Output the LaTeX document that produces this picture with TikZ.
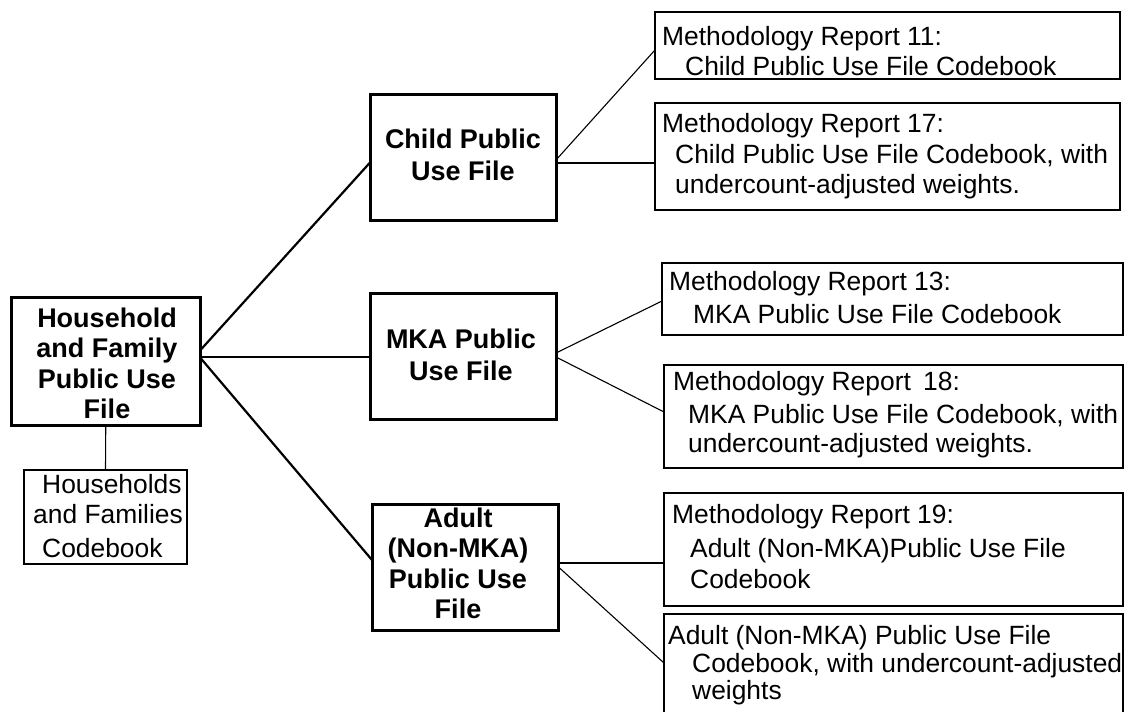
\documentclass[tikz,border=0pt]{standalone}
\usepackage{fontspec}
\setmainfont{Liberation Sans}
\usetikzlibrary{calc}
\begin{document}
\begin{tikzpicture}[x=1pt,y=-1pt,
  bigbox/.style={draw, line width=3pt, inner sep=0pt, outer sep=0pt, anchor=north west},
  smallbox/.style={draw, line width=1.3pt, inner sep=0pt, outer sep=0pt, anchor=north west},
  reg/.style={font=\fontsize{26.4}{30}\selectfont, align=left, inner sep=0pt, anchor=north west},
  bld/.style={font=\bfseries\fontsize{27}{30.5}\selectfont, align=center, inner sep=0pt, anchor=north},
  heavy/.style={line width=2.2pt},
  light/.style={line width=1.1pt}]
\clip (0,0) rectangle (1125,712);
\fill[white] (0,0) rectangle (1125,712);

% main boxes
\node[bigbox, minimum width=189.5pt, minimum height=128.5pt] (hh) at (11,297) {};
\node[bigbox, minimum width=185.5pt, minimum height=126pt] (ch) at (370.5,94.5) {};
\node[bigbox, minimum width=185.5pt, minimum height=126pt] (mka) at (370.5,293) {};
\node[bigbox, minimum width=186.5pt, minimum height=126pt] (ad) at (372,504) {};

\node[bld] (hht) at (107,307.7) {Household\\and Family\\Public Use\\File};
\node[bld] (cht) at (463,128.7) {Child Public\\[1.5pt]Use File};
\node[bld] (mkat) at (461,328.7) {MKA Public\\[1.5pt]Use File};
\node[bld] (adt) at (458,507.7) {Adult\\(Non-MKA)\\Public Use\\File};

% codebook box
\node[smallbox, minimum width=163pt, minimum height=94pt] (cb) at (24,470) {};
\node[reg] (cbt) at (33,474) {\hspace*{9pt}Households\\and Families\\[4pt]\hspace*{9pt}Codebook};

% report boxes
\node[smallbox, minimum width=465pt, minimum height=67pt] (r11) at (655,12) {};
\node[smallbox, minimum width=465pt, minimum height=107pt] (r17) at (655,103) {};
\node[smallbox, minimum width=461pt, minimum height=72pt] (r13) at (662,263) {};
\node[smallbox, minimum width=459pt, minimum height=103pt] (r18) at (664,365) {};
\node[smallbox, minimum width=459pt, minimum height=113pt] (r19) at (664,493) {};
\node[smallbox, minimum width=459pt, minimum height=120pt] (r20) at (664,614) {};

\node[reg] (r11t) at (662,26) {Methodology Report 11:\\\hspace*{23pt}Child Public Use File Codebook};
\node[reg] (r17t) at (662,113) {Methodology Report 17:\\[1pt]\hspace*{13pt}Child Public Use File Codebook, with\\\hspace*{13pt}undercount-adjusted weights.};
\node[reg] (r13t) at (669,271) {Methodology Report 13:\\[3pt]\hspace*{24pt}MKA Public Use File Codebook};
\node[reg] (r18t) at (673,371) {Methodology Report\hspace{5pt} 18:\\[3pt]\hspace*{15pt}MKA Public Use File Codebook, with\\[-1pt]\hspace*{15pt}undercount-adjusted weights.};
\node[reg] (r19t) at (672,504) {Methodology Report 19:\\[4pt]\hspace*{18pt}Adult (Non-MKA)Public Use File\\[1pt]\hspace*{18pt}Codebook};
\node[reg] (r20t) at (668,625.5) {Adult (Non-MKA) Public Use File\\[-2pt]\hspace*{24pt}Codebook, with undercount-adjusted\\[-3pt]\hspace*{24pt}weights};

% connectors from household
\draw[heavy] ([yshift=-53pt]hh.north east) -- ([yshift=-67.5pt]ch.north west);
\draw[heavy] ([yshift=-60pt]hh.north east) -- ([yshift=-64pt]mka.north west);
\draw[heavy] ([yshift=-61pt]hh.north east) -- ([yshift=-56pt]ad.north west);
\draw[light] (hh.south) -- (cb.north);

% connectors to reports
\draw[light] ([yshift=-65.5pt]ch.north east) -- ([yshift=-38pt]r11.north west);
\draw[light] ([yshift=-68.5pt]ch.north east) -- ([yshift=-60pt]r17.north west);
\draw[light] ([yshift=-60pt]mka.north east) -- ([yshift=-38pt]r13.north west);
\draw[light] ([yshift=-64pt]mka.north east) -- ([yshift=-47pt]r18.north west);
\draw[light] ([yshift=-59pt]ad.north east) -- ([yshift=-70pt]r19.north west);
\draw[light] ([yshift=-63pt]ad.north east) -- ([yshift=-49pt]r20.north west);
\end{tikzpicture}
\end{document}
